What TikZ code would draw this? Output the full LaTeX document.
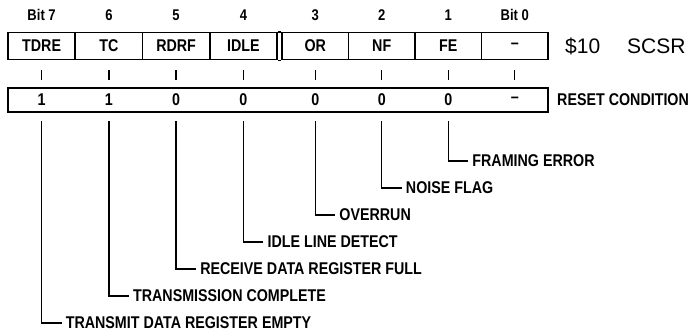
\documentclass[tikz,border=0pt]{standalone}
\usepackage{fontspec}
\newfontfamily\labfont[FakeStretch=0.84]{Liberation Sans}
\newfontfamily\regfont{Liberation Sans}
\usetikzlibrary{positioning}
\tikzset{
  txt/.style={inner sep=0pt, font=\labfont\bfseries\fontsize{17}{20}\selectfont},
  bitlab/.style={inner sep=0pt, font=\labfont\bfseries\fontsize{15.5}{18}\selectfont},
  cellL/.style={txt, draw, line width=1.6pt, minimum height=27pt, minimum width=67.25pt},
  cellR/.style={txt, draw, line width=1.6pt, minimum height=27pt, minimum width=66.5pt},
  resetbox/.style={draw, line width=1.5pt, minimum height=24pt, minimum width=540pt, inner sep=0pt},
  tickline/.style={line width=1.3pt},
  leadline/.style={line width=1.3pt},
  big/.style={inner sep=0pt, font=\regfont\fontsize{21}{24}\selectfont},
}
\begin{document}
\begin{tikzpicture}[x=1pt,y=-1pt]
\useasboundingbox (0,0) rectangle (696,335);
% bit numbers
\node[bitlab] (b7) at (41.6,15) {Bit 7};
\node[bitlab] (b6) at (108.9,15) {6};
\node[bitlab] (b5) at (176.1,15) {5};
\node[bitlab] (b4) at (243.4,15) {4};
\node[bitlab] (b3) at (315.25,15) {3};
\node[bitlab] (b2) at (381.75,15) {2};
\node[bitlab] (b1) at (448.25,15) {1};
\node[bitlab] (b0) at (514.75,15) {Bit 0};
% register cells
\node[cellL] (c7) at (41.6,46) {TDRE};
\node[cellL] (c6) at (108.9,46) {TC};
\node[cellL] (c5) at (176.1,46) {RDRF};
\node[cellL] (c4) at (243.4,46) {IDLE};
\node[cellR] (c3) at (315.25,46) {OR};
\node[cellR] (c2) at (381.75,46) {NF};
\node[cellR] (c1) at (448.25,46) {FE};
\node[cellR] (c0) at (514.75,46) {–};
\draw[line width=1.6pt] (c4.north east) -- (c3.north west);
\draw[line width=1.6pt] (c4.south east) -- (c3.south west);
\node[big,anchor=west] (addr) at (565,46) {\$10};
\node[big,anchor=west] (name) at (627,46) {SCSR};
% reset row
\node[resetbox] (reset) at (278,100) {};
\node[txt] (r7) at (41.6,100) {1};
\node[txt] (r6) at (108.9,100) {1};
\node[txt] (r5) at (176.1,100) {0};
\node[txt] (r4) at (243.4,100) {0};
\node[txt] (r3) at (315.25,100) {0};
\node[txt] (r2) at (381.75,100) {0};
\node[txt] (r1) at (448.25,100) {0};
\node[txt] (r0) at (514.75,100) {–};
\node[txt,anchor=west] (rc) at (557,100) {RESET CONDITION};
% ticks
\foreach \i in {7,6,5,4,3,2,1,0}{
  \draw[tickline] ([yshift=-10pt]c\i.south) -- ([yshift=-20pt]c\i.south);
}
% leader start points
\coordinate (t7) at (41.6,121);
\coordinate (t6) at (108.9,121);
\coordinate (t5) at (176.1,121);
\coordinate (t4) at (243.4,121);
\coordinate (t3) at (315.25,121);
\coordinate (t2) at (381.75,121);
\coordinate (t1) at (448.25,121);
% leader labels
\node[txt,anchor=west] (l1) at (472.25,161) {FRAMING ERROR};
\node[txt,anchor=west] (l2) at (405.75,188) {NOISE FLAG};
\node[txt,anchor=west] (l3) at (339.25,215) {OVERRUN};
\node[txt,anchor=west] (l4) at (267.4,242) {IDLE LINE DETECT};
\node[txt,anchor=west] (l5) at (200.1,269) {RECEIVE DATA REGISTER FULL};
\node[txt,anchor=west] (l6) at (132.9,296) {TRANSMISSION COMPLETE};
\node[txt,anchor=west] (l7) at (65.6,323) {TRANSMIT DATA REGISTER EMPTY};
\foreach \i in {1,...,7}{
  \draw[leadline] (t\i) |- ([xshift=-4pt]l\i.west);
}
\end{tikzpicture}
\end{document}
